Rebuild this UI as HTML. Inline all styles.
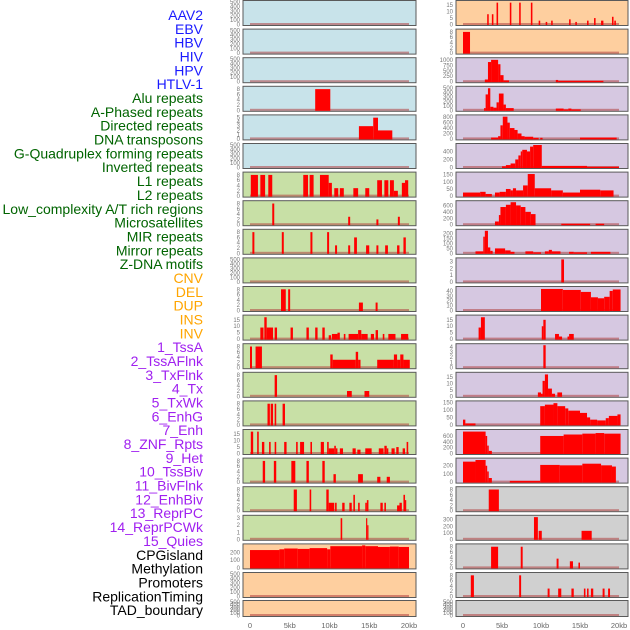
<!DOCTYPE html>
<html><head><meta charset="utf-8"><style>
html,body{margin:0;padding:0;background:#fff;width:630px;height:630px;overflow:hidden}
svg{display:block;font-family:"Liberation Sans",sans-serif}
</style></head><body>
<svg id="chart" width="630" height="630" viewBox="0 0 630 630" xmlns="http://www.w3.org/2000/svg"></svg>
<script>
const trackLabels=["AAV2","EBV","HBV","HIV","HPV","HTLV-1","Alu repeats","A-Phased repeats","Directed repeats","DNA transposons","G-Quadruplex forming repeats","Inverted repeats","L1 repeats","L2 repeats","Low_complexity A/T rich regions","Microsatellites","MIR repeats","Mirror repeats","Z-DNA motifs","CNV","DEL","DUP","INS","INV","1_TssA","2_TssAFlnk","3_TxFlnk","4_Tx","5_TxWk","6_EnhG","7_Enh","8_ZNF_Rpts","9_Het","10_TssBiv","11_BivFlnk","12_EnhBiv","13_ReprPC","14_ReprPCWk","15_Quies","CPGisland","Methylation","Promoters","ReplicationTiming","TAD_boundary"];
const labelColors=["#1a1aff","#1a1aff","#1a1aff","#1a1aff","#1a1aff","#1a1aff","#006400","#006400","#006400","#006400","#006400","#006400","#006400","#006400","#006400","#006400","#006400","#006400","#006400","#ffa500","#ffa500","#ffa500","#ffa500","#ffa500","#a020f0","#a020f0","#a020f0","#a020f0","#a020f0","#a020f0","#a020f0","#a020f0","#a020f0","#a020f0","#a020f0","#a020f0","#a020f0","#a020f0","#a020f0","#000","#000","#000","#000","#000"];
const xTickValues=[0,5,10,15,20];
const xTickLabels=["0","5kb","10kb","15kb","20kb"];
const t500=[0,100,200,300,400,500], t8=[0,2,4,6,8];
// segments: [startKb, endKb, value]
const L3=[[8.2,10.1,8]];
const L4=[[13.7,15.5,3],[15.5,16.1,5],[16.1,17.9,2]];
const L6=[[0.1,1.0,8],[1.3,1.9,8],[2.3,2.8,8],[6.7,7.3,8],[7.5,8.0,8],[8.8,9.9,8],[9.9,10.3,5],[10.6,11.1,3],[11.3,11.8,3],[13.0,13.6,3],[14.5,15.0,3],[16.0,16.6,6],[16.9,17.4,6],[17.6,18.1,6],[18.1,18.6,2],[19.1,19.5,5],[19.5,19.9,6]];
const L7=[[2.8,3.05,8],[12.35,12.6,3],[15.9,16.15,2],[18.6,18.85,3]];
const L8=[[0.3,0.55,8],[4.0,4.25,8],[7.6,7.85,8],[9.7,9.95,8],[10.7,10.95,3],[12.35,12.6,3],[13.1,13.45,6],[14.6,15.0,3],[15.9,16.15,3],[17.0,17.35,3],[18.5,18.8,3],[19.3,19.6,6]];
const L10=[[3.9,4.5,8],[4.8,5.05,8],[13.7,14.2,3],[15.8,16.05,3]];
const L11=[[1.3,1.7,9],[1.8,2.1,17],[2.1,2.9,9],[3.1,3.4,9],[5.1,5.4,9],[7.1,7.4,9],[8.2,8.5,9],[9.1,9.4,9],[9.9,10.2,3],[10.3,11.0,4],[11.0,11.3,5],[11.8,12.0,4],[12.4,13.6,4],[13.6,14.0,7],[14.0,14.8,4],[15.2,15.6,4],[15.8,16.1,7],[16.7,16.9,4],[17.4,18.3,4],[19.0,19.9,4]];
const L12=[[0.0,0.25,8],[0.7,1.5,8],[10.1,10.4,5],[10.4,13.3,3],[13.3,13.6,6],[13.6,13.9,3],[16.0,18.1,3],[18.1,18.5,5],[18.5,18.9,3],[18.9,19.3,5],[19.3,20.1,3]];
const L13=[[3.1,3.4,8],[12.2,12.8,2],[14.4,15.0,2]];
const L14=[[2.2,2.5,8],[2.6,2.9,8],[3.1,3.3,8],[4.1,4.4,8]];
const L15=[[0.1,0.4,17],[0.9,1.1,17],[1.5,1.8,9],[2.4,2.6,9],[3.1,3.3,9],[4.3,4.6,9],[5.8,6.0,9],[6.3,6.8,9],[7.6,7.8,9],[8.9,9.3,9],[9.7,9.9,9],[9.9,10.6,4],[10.6,10.8,6],[10.8,11.0,4],[11.3,11.7,4],[12.9,13.3,4],[13.5,13.9,3],[14.5,15.3,4],[16.2,16.8,4],[16.9,17.2,6],[17.2,17.4,4],[17.8,18.2,4],[18.4,18.7,5],[19.2,19.5,4],[19.7,19.9,9]];
const L16=[[1.6,1.9,8],[3.0,3.3,8],[5.2,5.7,8],[7.1,7.4,8],[9.1,9.4,8],[10.5,10.8,3],[13.6,14.2,3],[16.0,16.4,2],[17.2,17.6,2]];
const L17=[[5.5,5.9,8],[7.5,7.7,8],[9.6,9.9,8],[9.9,10.6,3],[10.7,10.9,3],[11.6,11.9,3],[12.5,12.8,3],[13.0,13.2,6],[13.6,13.8,3],[14.5,14.7,3],[14.7,14.9,4],[16.4,16.7,3],[16.9,17.1,3],[18.5,18.8,2],[18.8,19.1,3],[19.3,19.5,6],[19.5,19.6,4]];
const L18=[[11.4,11.6,3],[14.6,14.75,3],[14.75,14.9,2]];
const L19=[[0,3.7,230],[3.7,4.3,240],[4.3,6.0,250],[6.0,7.5,245],[7.5,9.7,255],[9.7,10.1,240],[10.1,14.1,280],[14.1,14.5,290],[14.5,16.1,280],[16.1,17.6,270],[17.6,18.7,275],[18.7,20.0,270]];
const R0=[[3.1,3.3,8],[3.7,3.9,8],[4.3,4.5,17],[6.0,6.2,17],[7.2,7.4,17],[8.7,8.9,17],[9.7,9.9,3],[10.6,10.8,2],[11.3,11.5,3],[13.6,13.8,4],[14.4,14.6,2],[15.9,16.1,3],[16.8,17.0,5],[17.7,18.0,3],[19.1,19.3,6],[19.4,19.6,3]];
const R1=[[0,0.9,8]];
const R2=[[2.8,3.2,100],[3.2,3.6,900],[3.6,4.5,1000],[4.5,4.8,800],[4.8,5.2,300],[5.2,5.9,60],[11.9,12.2,80],[12.2,18.0,40]];
const R3=[[2.7,2.9,50],[2.9,3.2,360],[3.2,3.5,500],[3.5,3.9,80],[3.9,4.3,60],[4.3,4.6,180],[4.6,5.2,380],[5.2,5.5,130],[5.5,6.5,50],[11.9,12.9,40],[12.9,13.5,20],[13.5,13.9,40],[13.9,15.1,20]];
const R4=[[3.6,4.5,50],[4.5,4.8,100],[4.8,5.1,500],[5.1,5.7,820],[5.7,6.0,600],[6.0,6.6,400],[6.6,7.0,330],[7.0,7.5,200],[7.5,7.9,100],[7.9,9.0,80],[9.0,9.7,40],[9.9,10.2,40],[15.0,19.7,50]];
const R5=[[5.0,5.5,30],[5.5,6.1,60],[6.1,6.7,100],[6.7,7.1,200],[7.1,7.4,300],[7.4,7.6,400],[7.6,8.2,440],[8.2,8.6,400],[8.6,9.0,520],[9.0,10.1,560],[10.1,15.9,40],[15.9,20.0,20]];
const R6=[[0,2.2,25],[2.2,2.9,30],[2.9,3.7,15],[4.1,4.7,25],[4.7,5.5,30],[5.5,6.1,50],[6.1,6.4,40],[6.4,6.8,55],[6.8,7.7,40],[7.7,8.3,75],[8.3,9.2,155],[9.2,11.3,55],[11.3,12.8,40],[12.8,15.0,25],[15.0,17.6,45],[17.6,19.3,40]];
const R7=[[4.1,4.6,100],[4.6,4.8,300],[4.8,5.5,550],[5.5,6.1,620],[6.1,6.8,700],[6.8,7.4,600],[7.4,8.0,550],[8.0,8.7,400],[8.7,9.3,330],[12.6,16.3,30],[17.0,18.1,30]];
const R8=[[1.6,2.6,20],[2.6,2.8,170],[2.8,3.2,230],[3.2,3.5,60],[3.5,3.8,25],[4.1,5.4,50],[5.4,6.1,30],[6.1,6.6,15],[8.0,9.0,20],[9.0,10.0,10],[10.5,11.0,20],[11.0,11.4,35],[11.4,12.5,20],[13.6,14.2,15],[14.2,15.9,10],[16.4,18.9,15]];
const R9=[[12.6,12.95,3.3]];
const R10=[[10.0,12.8,44],[12.8,15.1,42],[15.1,16.4,38],[16.4,17.3,27],[17.3,18.1,25],[18.1,18.8,28],[18.8,19.2,40],[19.2,20.2,43]];
const R11=[[2.0,2.3,9],[2.3,2.8,17],[10.1,10.3,10],[10.3,10.6,15],[11.8,12.3,4],[12.3,12.7,2],[13.4,13.6,2],[13.6,14.2,4]];
const R12=[[10.3,10.6,4.3]];
const R13=[[9.6,10.0,3],[10.0,10.2,2],[10.2,10.5,12],[10.5,10.9,17],[10.9,11.4,6],[11.4,11.8,2],[12.1,12.7,3]];
const R14=[[0,0.3,35],[0.3,1.6,10],[9.9,10.5,125],[10.5,11.6,135],[11.6,12.1,145],[12.1,13.1,125],[13.1,13.5,110],[13.5,15.0,95],[15.0,15.9,80],[15.9,16.3,50],[16.3,17.2,35],[17.2,18.3,30],[18.3,18.7,45],[18.7,19.8,60],[19.8,20.2,70]];
const R15=[[0,2.9,750],[2.9,3.1,600],[3.1,3.3,270],[3.3,3.7,90],[9.9,12.9,600],[12.9,15.3,650],[15.3,17.0,680],[17.0,18.1,700],[18.1,20.2,680]];
const R16=[[0,1.6,250],[1.6,2.9,270],[2.9,3.1,200],[3.1,3.3,130],[3.3,3.7,50],[6.0,9.9,15],[9.9,12.4,210],[12.4,15.3,205],[15.3,17.7,225],[17.7,19.1,205],[19.1,19.6,190]];
const R17=[[3.3,4.6,8]];
const R18=[[9.1,9.6,340],[9.7,10.1,130],[15.2,16.5,130]];
const R19=[[3.6,4.5,8],[7.4,7.65,8],[12.0,12.25,3.5],[13.7,14.1,2.5],[14.8,15.0,2]];
const R20=[[1.0,1.4,8],[7.2,7.45,8],[10.85,11.1,3],[12.2,12.6,3],[13.9,14.2,3],[15.5,15.7,3],[15.9,16.1,3],[16.4,16.7,3],[17.9,18.15,3],[18.6,18.85,3]];

const BLUE="#c8e3ea",GREEN="#c8e0a6",ORANGE="#fecf9f",LAV="#d6c8e1",GRAY="#d0d0d0";
const leftPanels=[
 [[],t500,500,BLUE],[[],t500,500,BLUE],[[],t500,500,BLUE],[L3,t8,8.5,BLUE],[L4,[0,1,2,3,4,5],5.3,BLUE],[[],t500,500,BLUE],
 [L6,t8,8.5,GREEN],[L7,t8,8.5,GREEN],[L8,t8,8.5,GREEN],[[],t500,500,GREEN],[L10,t8,8.5,GREEN],[L11,[0,5,10,15],17.5,GREEN],
 [L12,t8,8.5,GREEN],[L13,t8,8.5,GREEN],[L14,t8,8.5,GREEN],[L15,[0,5,10,15],17.5,GREEN],[L16,t8,8.5,GREEN],[L17,t8,8.5,GREEN],
 [L18,[0,1,2,3],3.2,GREEN],[L19,[0,100,200],290,ORANGE],[[],t500,500,ORANGE],[[],t500,500,ORANGE]];
const rightPanels=[
 [R0,[0,5,10,15],17.5,ORANGE],[R1,t8,8.5,ORANGE],[R2,[0,250,500,750,1000],1030,LAV],[R3,t500,510,LAV],[R4,[0,200,400,600,800],830,LAV],
 [R5,[0,200,400],560,LAV],[R6,[0,50,100,150],158,LAV],[R7,[0,200,400,600],700,LAV],[R8,[0,50,100,150,200],230,LAV],[R9,[0,1,2,3],3.3,LAV],
 [R10,[0,10,20,30,40],46,LAV],[R11,[0,5,10,15],17.5,LAV],[R12,[0,1,2,3,4],4.3,LAV],[R13,[0,5,10,15],17.5,LAV],[R14,[0,50,100,150],150,LAV],
 [R15,[0,200,400,600],770,LAV],[R16,[0,100,200],275,LAV],[R17,t8,8.5,GRAY],[R18,[0,100,200,300],345,GRAY],[R19,t8,8.5,GRAY],[R20,t8,8.5,GRAY],[[],t500,500,GRAY]];

const svg=document.getElementById('chart');
const NS="http://www.w3.org/2000/svg";
function mk(tag,attrs,parent){const e=document.createElementNS(NS,tag);for(const k in attrs)e.setAttribute(k,attrs[k]);(parent||svg).appendChild(e);return e;}
function rowTop(i){return i<21?i*28.6+0.5:600.5;}
function rowH(i){return i<21?25:16;}
const cols=[{px:243,pw:173,x0:250,s:7.95,panels:leftPanels,side:'left'},{px:456,pw:172,x0:463,s:7.8,panels:rightPanels,side:'right'}];

// labels
trackLabels.forEach((t,i)=>{
  const e=mk('text',{x:203,y:15+i*13.84+5,'text-anchor':'end','font-size':'14',fill:labelColors[i]});
  e.textContent=t;
  
  
});

cols.forEach(c=>{
  const xs=kb=>c.x0+kb*c.s;
  c.panels.forEach((p,i)=>{
    const [segs,ticks,ymax,bg]=p;
    const top=rowTop(i),h=rowH(i),bot=top+h;
    const g=mk('g',{});
    
    
    const ys=v=>bot-1-(v/ymax)*(h-2.5);
    const bgR=mk('rect',{x:c.px,y:top,width:c.pw,height:h,fill:bg,stroke:'#5a5a5a','stroke-width':1},g);
    
    
    const base=mk('rect',{x:xs(0),y:bot-2.5,width:20*c.s,height:2,fill:'#b04040',opacity:0.55},g);
    
    
    segs.forEach(sg=>{
      const y=ys(Math.min(sg[2],ymax*1.02));
      const r=mk('rect',{x:xs(sg[0]),y:y,width:Math.max(1.2,(sg[1]-sg[0])*c.s),height:Math.max(0.5,bot-0.5-y),fill:'#ff0000'},g);
      
      
    });
    ticks.forEach(tv=>{
      const tt=mk('text',{x:c.px-3,y:ys(tv)+2,'text-anchor':'end','font-size':'6',fill:'#777'},g);
      tt.textContent=tv;
      
      
    });
  });
  xTickValues.forEach((v,j)=>{
    const t=mk('text',{x:xs(v),y:628,'text-anchor':'middle','font-size':'7.5',fill:'#666'});
    t.textContent=xTickLabels[j];
    
    
  });
});
</script>
</body></html>
